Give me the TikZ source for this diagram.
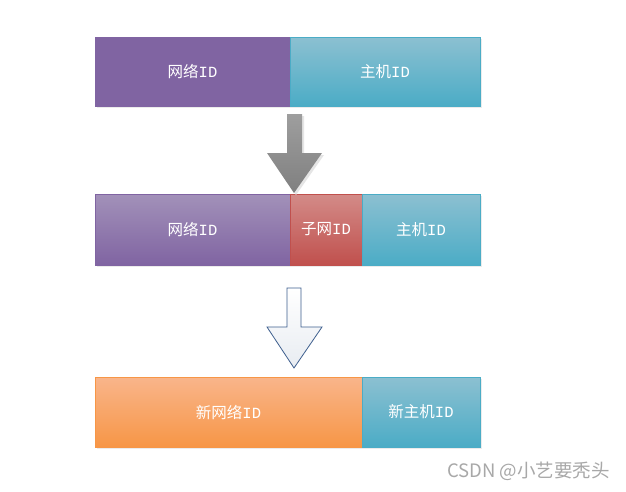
\documentclass[tikz,border=0pt]{standalone}
\usepackage{fontspec}
\newfontfamily\cjk{Noto Sans CJK SC}
\newfontfamily\lat{Liberation Mono}
\definecolor{purp}{HTML}{8064A2}
\definecolor{purpL}{HTML}{A291B9}
\definecolor{blu}{HTML}{4BACC6}
\definecolor{bluL}{HTML}{8CC0D1}
\definecolor{redD}{HTML}{C0504D}
\definecolor{redL}{HTML}{D38B88}
\definecolor{orgD}{HTML}{F79646}
\definecolor{orgL}{HTML}{F9B58B}
\definecolor{arrB}{HTML}{3E5F8E}
\definecolor{wm}{HTML}{A8A8A8}
\newcommand{\IDx}{{\lat ID}}
\tikzset{
  field/.style={rectangle, inner sep=0pt, outer sep=0pt, line width=0.8pt,
     text=white, font=\cjk\fontsize{15.5}{17}\selectfont},
  shad/.style={fill=black!8},
}
\begin{document}
\begin{tikzpicture}[x=1pt,y=-1pt]
\useasboundingbox[fill=white] (0,0) rectangle (626,491);
% shadows
\fill[shad] (97,39) rectangle (482,108);
\fill[shad] (97,196) rectangle (482,267);
\fill[shad] (97,379) rectangle (482,449);
% row 1
\node[field, fill=purp, draw=purp, minimum width=195, minimum height=69] (n1) at (192.5,71.5) {网络\IDx};
\node[field, top color=bluL, bottom color=blu, draw=blu, minimum width=190, minimum height=69] (h1) at (385,71.5) {主机\IDx};
% row 2
\node[field, top color=purpL, bottom color=purp, draw=purp, minimum width=195, minimum height=71] (n2) at (192.5,229.5) {网络\IDx};
\node[field, top color=redL, bottom color=redD, draw=redD, minimum width=72, minimum height=71] (s2) at (326,229.5) {子网\IDx};
\node[field, top color=bluL, bottom color=blu, draw=blu, minimum width=118, minimum height=71] (h2) at (421,229.5) {主机\IDx};
% row 3
\node[field, top color=orgL, bottom color=orgD, draw=orgD, minimum width=267, minimum height=70] (n3) at (228.5,412) {新网络\IDx};
\node[field, top color=bluL, bottom color=blu, draw=blu, minimum width=118, minimum height=70] (h3) at (421,412) {新主机\IDx};
% gray arrow
\fill[black!10] (289,116) -- (304,116) -- (304,155) -- (324,155) -- (296,195) -- (269,155) -- (289,155) -- cycle;
\shade[top color=black!38, bottom color=black!50] (287,114) -- (302,114) -- (302,153) -- (322,153) -- (294,193) -- (267,153) -- (287,153) -- cycle;
% outline arrow
\draw[arrB, line width=0.8pt, top color=white, bottom color=arrB!12] (287,288) -- (301,288) -- (301,327) -- (322,327) -- (294,368) -- (267,327) -- (287,327) -- cycle;
% watermark
\node[text=wm, font=\cjk\fontsize{18.5}{20}\selectfont, anchor=east, inner sep=0pt] (wmk) at (610,471) {CSDN @小艺要秃头};
\end{tikzpicture}
\end{document}
